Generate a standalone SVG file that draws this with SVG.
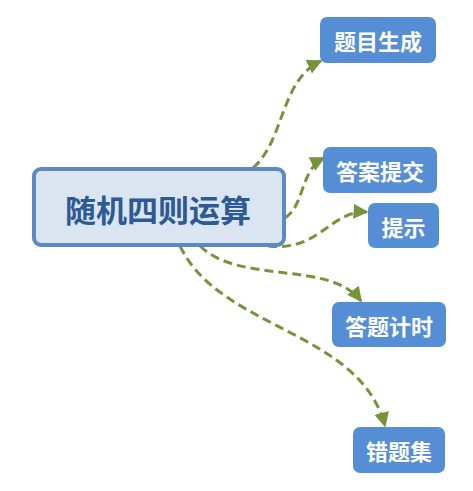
<svg xmlns="http://www.w3.org/2000/svg" width="473" height="491" viewBox="0 0 473 491">
<style>
.sub rect{fill:#558ed5;}
.sub text{fill:#ffffff;font-family:"Noto Sans CJK SC","Noto Sans",sans-serif;font-weight:bold;font-size:22px;text-anchor:middle;dominant-baseline:central;}
.edge{fill:none;stroke:#77933c;stroke-width:3;stroke-dasharray:9 5;marker-end:url(#arr);}
</style>
<defs>
<marker id="arr" viewBox="0 0 10 10" refX="9" refY="5" markerWidth="5" markerHeight="5" orient="auto" markerUnits="strokeWidth">
<path d="M0,0 L10,5 L0,10 z" fill="#77933c"/>
</marker>
</defs>
<rect width="473" height="491" fill="#ffffff"/>
<g id="connectors">
<path class="edge" d="M253,168 C285,140 280,80 321,61"/>
<path class="edge" d="M285,218 C305,205 300,170 324,158"/>
<path class="edge" d="M268,246 C320,252 330,210 367,212"/>
<path class="edge" d="M200,246 C240,285 330,260 361,301"/>
<path class="edge" d="M180,246 C220,330 360,330 385,426"/>
</g>
<g id="center">
<rect x="34" y="169" width="250" height="76" rx="7" fill="#dbe5f1" stroke="#5a8ac6" stroke-width="4"/>
<text x="158" y="208" fill="#2d5a94" font-family="Noto Sans CJK SC, Noto Sans, sans-serif" font-weight="bold" font-size="31" text-anchor="middle" dominant-baseline="central">随机四则运算</text>
</g>
<g id="n1" class="sub">
<rect x="320" y="17" width="116" height="46" rx="7"/>
<text x="378" y="40">题目生成</text>
</g>
<g id="n2" class="sub">
<rect x="323" y="147" width="114" height="46" rx="7"/>
<text x="380" y="170">答案提交</text>
</g>
<g id="n3" class="sub">
<rect x="368" y="203" width="71" height="45" rx="7"/>
<text x="403.5" y="225.5">提示</text>
</g>
<g id="n4" class="sub">
<rect x="332" y="302" width="114" height="45" rx="7"/>
<text x="389" y="324.5">答题计时</text>
</g>
<g id="n5" class="sub">
<rect x="353" y="427" width="92" height="46" rx="7"/>
<text x="399" y="450">错题集</text>
</g>
</svg>
